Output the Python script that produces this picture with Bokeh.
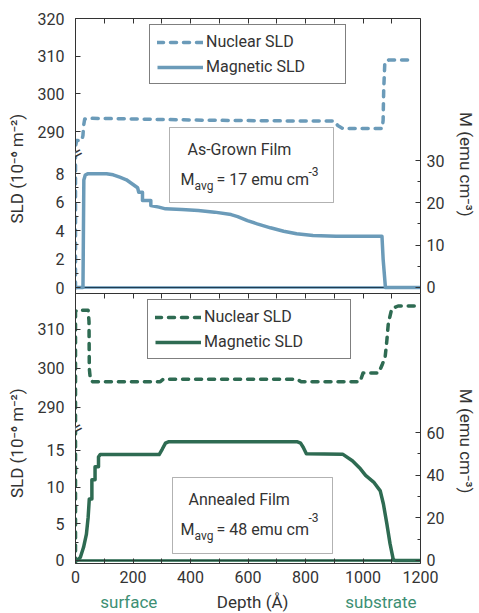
from bokeh.plotting import figure
from bokeh.layouts import column
from bokeh.models import (Range1d, LinearAxis, FixedTicker, CustomJSTickFormatter,
                          Legend, LegendItem, Label, BoxAnnotation)
from bokeh.embed import file_html
from bokeh.resources import INLINE

FONT = "Roboto"
BLUE = "#6b9bb9"
BLUE_DARK = "#1f3b52"
GREEN = "#2e6b52"
GREEN_DARK = "#1e4a38"
TEAL = "#3d8f74"
INK = "#333333"
NB = "\u00a0"
DY = 6  # lift for alphabetic-baseline labels

# ---------------- data ----------------
depth_ticks = [0, 200, 400, 600, 800, 1000, 1200]
depth_minor = [100, 300, 500, 700, 900, 1100]
depth_all = [0, 100, 200, 300, 400, 500, 600, 700, 800, 900, 1000, 1100, 1200]

baseline_x = [0, 1200]
baseline_y = [0, 0]

# As-grown film
ag_nuc_x = [0, 0, 4, 22, 26, 28, 32, 50, 150, 300, 450, 600, 750, 900, 912, 930, 1000, 1067, 1070, 1072, 1076, 1090, 1170]
ag_nuc_y = [0, 286.0, 287.6, 287.6, 289.0, 291.5, 293.3, 293.5, 293.4, 293.2, 293.0, 292.9, 292.8, 292.8, 291.6, 290.8, 290.8, 290.8, 293.0, 301.0, 308.5, 309.0, 309.0]
ag_mag_x = [0, 26, 29, 34, 42, 108, 131, 154, 177, 194, 205, 216, 220, 233, 233, 262, 262, 290, 313, 370, 427, 484, 541, 564, 598, 632, 678, 724, 769, 826, 906, 1066, 1070, 1078, 1200]
ag_mag_y = [0, 0, 7.55, 7.9, 7.98, 7.98, 7.91, 7.74, 7.56, 7.32, 7.16, 7.0, 6.69, 6.69, 6.1, 6.1, 5.75, 5.64, 5.52, 5.47, 5.40, 5.29, 5.12, 4.98, 4.70, 4.47, 4.19, 3.95, 3.77, 3.65, 3.60, 3.60, 2.0, 0, 0]

# Annealed film
an_nuc_x = [0, 0, 3, 44, 47, 48, 52, 60, 295, 305, 770, 785, 990, 1000, 1054, 1066, 1077, 1083, 1088, 1100, 1122, 1185]
an_nuc_y = [0, 314.4, 314.9, 314.9, 312.0, 300.0, 297.0, 296.6, 296.6, 297.2, 297.2, 296.6, 296.6, 298.8, 298.8, 300.8, 302.9, 307.2, 311.5, 315.3, 316.0, 316.0]
an_mag_x = [0, 8, 17, 28, 38, 44, 48, 57, 57, 68, 68, 80, 80, 86, 291, 302, 313, 325, 770, 783, 792, 803, 929, 963, 991, 1009, 1037, 1060, 1071, 1083, 1094, 1105, 1111, 1200]
an_mag_y = [0, 0.1, 0.45, 1.8, 3.6, 5.9, 8.4, 8.4, 11.0, 11.0, 12.8, 12.8, 14.1, 14.45, 14.45, 15.2, 16.0, 16.2, 16.2, 16.0, 15.45, 14.55, 14.5, 13.6, 12.5, 11.6, 10.7, 9.5, 7.7, 5.0, 2.3, 0.2, 0, 0]

# tick labels
ag_nuc_ticks = [290, 300, 310, 320]
ag_mag_ticks = [0, 2, 4, 6, 8]
ag_mag_minor = [1, 3, 5, 7]
ag_M_ticks = [0, 10, 20, 30]
ag_M_minor = [5, 15, 25]
an_nuc_ticks = [290, 300, 310]
an_mag_ticks = [0, 5, 10, 15]
an_mag_minor = [2.5, 7.5, 12.5]
an_M_ticks = [0, 20, 40, 60]
an_M_minor = [10, 30, 50]

legend_labels = ["Nuclear SLD", "Magnetic SLD"]
sld_title = "SLD (10\u207b\u2076 m\u207b\u00b2)"
m_title = "M (emu cm\u207b\u00b3)"


def to_nuc(vals, nuc_rng, mag_rng):
    n0, n1 = nuc_rng
    m0, m1 = mag_rng
    return [n0 + (v - m0) * (n1 - n0) / (m1 - m0) for v in vals]


def fmt_label(v):
    return str(int(v)) if float(v).is_integer() else str(v)


def style_axis(ax, labels=True):
    ax.axis_line_color = INK
    ax.axis_line_width = 1
    ax.major_tick_line_color = INK
    ax.minor_tick_line_color = INK
    ax.major_tick_in = 5
    ax.major_tick_out = 0
    ax.minor_tick_in = 3
    ax.minor_tick_out = 0
    ax.major_label_text_font = FONT
    ax.major_label_text_font_size = "16px" if labels else "0px"
    ax.major_label_text_color = INK
    ax.axis_label_text_font = FONT
    ax.axis_label_text_font_size = "17px"
    ax.axis_label_text_font_style = "normal"
    ax.axis_label_text_color = INK
    if not labels:
        ax.major_label_standoff = 0
        ax.formatter = CustomJSTickFormatter(code="return '';")


def make_panel(height, b_top, b_bottom, nuc_rng, mag_rng, M_rng, color, dark,
               nuc_x, nuc_y, mag_x, mag_y, nuc_ticks, mag_ticks, mag_minor,
               M_ticks, M_minor, with_bottom_axis, legend_loc, legend_lw,
               left_title, right_title):
    p = figure(width=479, height=height, x_range=Range1d(0, 1200),
               y_range=Range1d(*nuc_rng), output_backend="svg", toolbar_location=None,
               min_border_left=75, min_border_right=53, min_border_top=b_top,
               min_border_bottom=b_bottom, x_axis_location=None, y_axis_location=None)
    p.extra_y_ranges = {"mag": Range1d(*mag_rng), "M": Range1d(*M_rng)}
    p.outline_line_color = None
    p.grid.visible = False

    # left axis: nuclear (upper part) + magnetic (lower part)
    pos = list(nuc_ticks) + to_nuc(mag_ticks, nuc_rng, mag_rng)
    labs = [fmt_label(v) for v in nuc_ticks] + [fmt_label(v) for v in mag_ticks]
    left = LinearAxis(ticker=FixedTicker(ticks=pos, minor_ticks=to_nuc(mag_minor, nuc_rng, mag_rng)),
                      formatter=CustomJSTickFormatter(args=dict(pos=pos, lab=labs), code="""
                          for (let i = 0; i < pos.length; i++) {
                              if (Math.abs(tick - pos[i]) < 1e-6) { return lab[i]; }
                          }
                          return "";
                      """))
    style_axis(left)
    left.major_label_standoff = 11
    left.axis_label = left_title
    left.axis_label_standoff = 8
    p.add_layout(left, "left")

    right = LinearAxis(y_range_name="M", ticker=FixedTicker(ticks=M_ticks, minor_ticks=M_minor))
    style_axis(right)
    right.major_label_standoff = 6
    right.axis_label = right_title
    right.axis_label_standoff = 9
    p.add_layout(right, "right")

    top = LinearAxis(ticker=FixedTicker(ticks=depth_all, minor_ticks=[]))
    style_axis(top, labels=False)
    p.add_layout(top, "above")
    if with_bottom_axis:
        bot = LinearAxis(ticker=FixedTicker(ticks=depth_ticks, minor_ticks=depth_minor))
        style_axis(bot)
        bot.minor_tick_in = 5
        bot.major_label_standoff = 7
        p.add_layout(bot, "below")

    # zero baseline
    p.line(baseline_x, baseline_y, y_range_name="mag", line_color=color, line_width=3, line_alpha=0.8)
    p.line(baseline_x, baseline_y, y_range_name="mag", line_color=dark, line_width=1.2)
    r_nuc = p.line(nuc_x, nuc_y, line_color=color, line_width=3.5, line_dash="6 7", line_cap="round",
                   line_join="round")
    r_mag = p.line(mag_x, mag_y, y_range_name="mag", line_color=color, line_width=3.5, line_join="round")

    legend = Legend(items=[LegendItem(label=legend_labels[0], renderers=[r_nuc]),
                           LegendItem(label=legend_labels[1], renderers=[r_mag])],
                    location=legend_loc, orientation="vertical", margin=0, padding=7,
                    spacing=6, glyph_width=46, glyph_height=18, label_height=18,
                    label_width=legend_lw, label_standoff=3,
                    label_text_font=FONT, label_text_font_size="16px", label_text_color=INK,
                    border_line_color="black", border_line_width=1,
                    background_fill_color="white", background_fill_alpha=1)
    p.add_layout(legend)
    return p


def txt(p, text, x, y, size="16px", color=INK, align="left", baseline="alphabetic", angle=0.0,
        font=FONT, units="screen"):
    p.add_layout(Label(x=x, y=y, x_units=units, y_units=units, text=text,
                       text_font=font, text_font_size=size, text_color=color,
                       text_align=align, text_baseline=baseline, angle=angle))


def breaks(p, y_left, y_right):
    for xx, yy in ((0, y_left), (351, y_right)):
        p.add_layout(BoxAnnotation(left=xx - 2, right=xx + 2, bottom=yy - 2, top=yy + 2,
                                   left_units="screen", right_units="screen",
                                   bottom_units="screen", top_units="screen",
                                   fill_color="white", fill_alpha=1, line_color=None))
        txt(p, "=", xx, yy, size="18px", align="center", baseline="middle", angle=0.5,
            font="DejaVu Sans")


def box(p, l, r, b, t):
    p.add_layout(BoxAnnotation(left=l, right=r, bottom=b, top=t, left_units="screen",
                               right_units="screen", bottom_units="screen", top_units="screen",
                               fill_color="white", fill_alpha=1, line_color="black", line_width=1))


# ---------------- top panel (as-grown) ----------------
ag_nuc_rng = (247.0, 320.0)
ag_mag_rng = (-0.42, 18.88)
ag_M_rng = (-1.42, 63.55)
p1 = make_panel(300, 18, 7, ag_nuc_rng, ag_mag_rng, ag_M_rng, BLUE, BLUE_DARK,
                ag_nuc_x, ag_nuc_y, ag_mag_x, ag_mag_y, ag_nuc_ticks, ag_mag_ticks, ag_mag_minor,
                ag_M_ticks, ag_M_minor, False, (74, 209), 132,
                sld_title + NB * 6, NB * 4 + m_title)
box(p1, 94, 258, 91, 166)
txt(p1, "As-Grown Film", 112, 138 + DY)
txt(p1, "M", 105, 108 + DY)
txt(p1, "avg", 119, 102 + DY, size="12px")
txt(p1, "= 17 emu cm", 141, 108 + DY)
txt(p1, "-3", 233, 116 + DY, size="12px")
breaks(p1, 140, 138)

# ---------------- bottom panel (annealed) ----------------
an_nuc_rng = (250.0, 319.2)
an_mag_rng = (-0.41, 36.41)
an_M_rng = (-1.41, 125.2)
p2 = make_panel(298, 0, 28, an_nuc_rng, an_mag_rng, an_M_rng, GREEN, GREEN_DARK,
                an_nuc_x, an_nuc_y, an_mag_x, an_mag_y, an_nuc_ticks, an_mag_ticks, an_mag_minor,
                an_M_ticks, an_M_minor, True, (72, 204), 139,
                sld_title + NB * 7, NB * 6 + m_title)
p2.background_fill_alpha = 0
p2.border_fill_alpha = 0
p2.margin = (-7, 0, 0, 0)
box(p2, 97, 257, 10, 86)
txt(p2, "Annealed Film", 113, 58 + DY)
txt(p2, "M", 105, 28 + DY)
txt(p2, "avg", 119, 22 + DY, size="12px")
txt(p2, "= 48 emu cm", 141, 28 + DY)
txt(p2, "-3", 233, 40 + DY, size="12px")
breaks(p2, 135, 136)

# ---------------- bottom caption row ----------------
p3 = figure(width=479, height=22, x_range=Range1d(0, 479), y_range=Range1d(0, 22),
            output_backend="svg", toolbar_location=None, min_border=0,
            x_axis_location=None, y_axis_location=None)
p3.outline_line_color = None
p3.grid.visible = False
txt(p3, "surface", 74, 6 + DY, size="17px", align="center", color=TEAL, units="data")
txt(p3, "Depth (\u00c5)", 246, 6 + DY, size="17px", align="center", units="data")
txt(p3, "substrate", 424, 6 + DY, size="17px", align="center", color=TEAL, units="data")

layout = column(p1, p2, p3, spacing=0)
open("out.html", "w").write(file_html(layout, INLINE))
